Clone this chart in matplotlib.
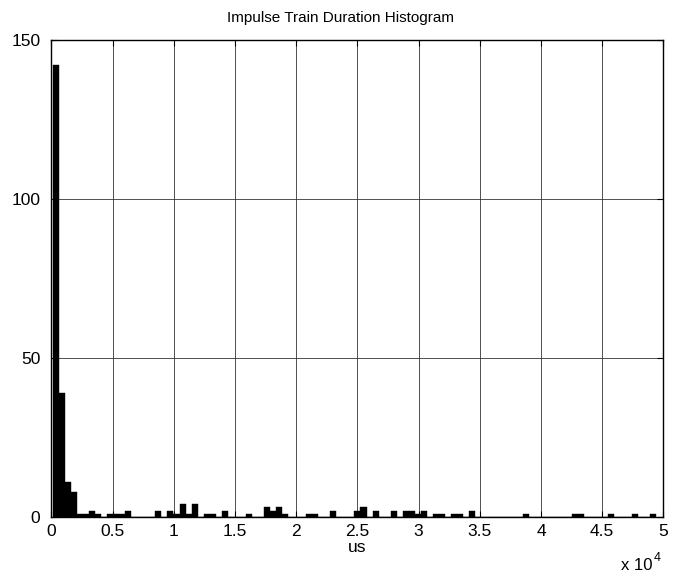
import numpy as np
import matplotlib
matplotlib.use("Agg")
import matplotlib.pyplot as plt

plt.rcParams["font.family"] = ["Liberation Sans", "DejaVu Sans"]

# histogram bins (us) and counts
bin_start = 110
bin_width = 493
counts = [
    142, 39, 11, 8, 1, 1, 2, 1, 0, 1,
    1, 1, 2, 0, 0, 0, 0, 2, 0, 2,
    1, 4, 1, 4, 0, 1, 1, 0, 2, 0,
    0, 0, 1, 0, 0, 3, 2, 3, 1, 0,
    0, 0, 1, 1, 0, 0, 2, 0, 0, 0,
    2, 3, 0, 2, 0, 0, 2, 0, 2, 2,
    1, 2, 0, 1, 1, 0, 1, 1, 0, 2,
    0, 0, 0, 0, 0, 0, 0, 0, 1, 0,
    0, 0, 0, 0, 0, 0, 1, 1, 0, 0,
    0, 0, 1, 0, 0, 0, 1, 0, 0, 1,
]
x_ticks = [0, 5000, 10000, 15000, 20000, 25000, 30000, 35000, 40000, 45000, 50000]
x_ticklabels = ["0", "0.5", "1", "1.5", "2", "2.5", "3", "3.5", "4", "4.5", "5"]
y_ticks = [0, 50, 100, 150]

edges = bin_start + bin_width * np.arange(len(counts))

fig = plt.figure(figsize=(6.79, 5.74), dpi=100)
ax = fig.add_axes([0.0758, 0.0993, 0.9011, 0.831])

ax.bar(edges, counts, width=bin_width, align="edge", color="black",
       edgecolor="black", linewidth=0.3, zorder=3)

ax.set_xlim(0, 50000)
ax.set_ylim(0, 150)
ax.set_xticks(x_ticks)
ax.set_xticklabels(x_ticklabels)
ax.set_yticks(y_ticks)
ax.tick_params(direction="in", length=4, width=0.8, labelsize=12.5,
               top=True, right=True)
ax.tick_params(axis="y", pad=8)
ax.tick_params(axis="x", pad=5)
ax.grid(True, color="#333333", linewidth=0.6, zorder=0)
for s in ax.spines.values():
    s.set_linewidth(1.0)
    s.set_zorder(4)

fig.text(0.502, 0.968, "Impulse Train Duration Histogram", fontsize=11,
         ha="center", va="center")
ax.set_xlabel("us", fontsize=12.5, labelpad=1)
fig.text(0.914, 0.002, "x 10", fontsize=12, ha="left", va="bottom")
fig.text(0.963, 0.018, "4", fontsize=9, ha="left", va="bottom")

fig.savefig("out.png", dpi=100, facecolor="white")
